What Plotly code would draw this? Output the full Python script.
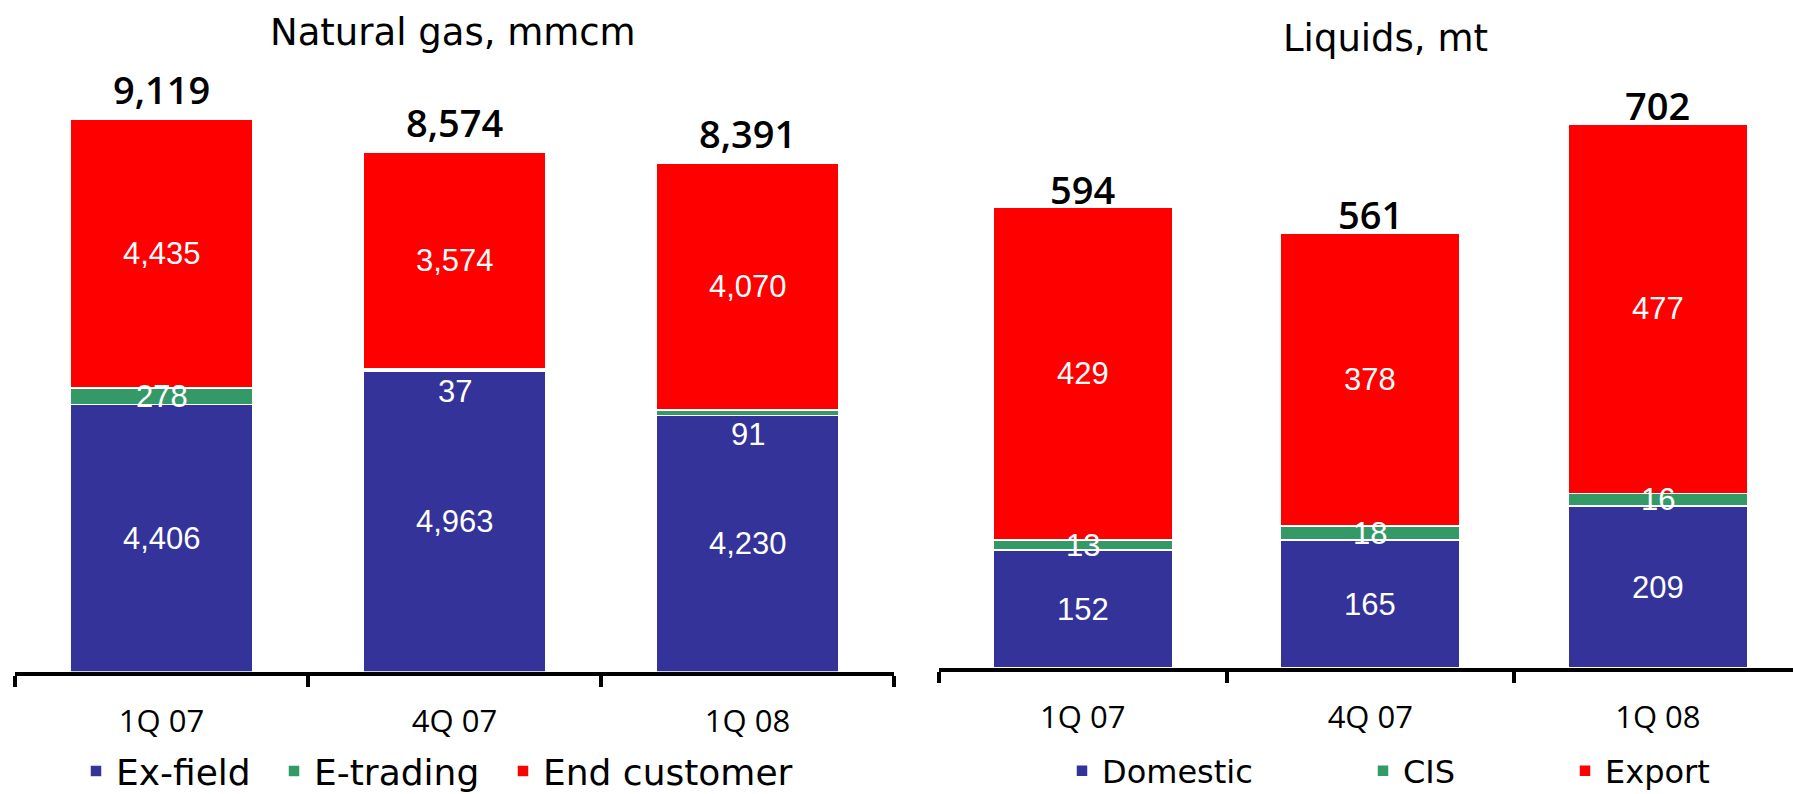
import plotly.graph_objects as go

# Quarters shown on both panels
quarters = ["1Q 07", "4Q 07", "1Q 08"]

# Natural gas sales, mmcm
gas_ex_field = [4406, 4963, 4230]
gas_e_trading = [278, 37, 91]
gas_end_customer = [4435, 3574, 4070]

# Liquids sales, mt
liq_domestic = [152, 165, 209]
liq_cis = [13, 18, 16]
liq_export = [429, 378, 477]

BLUE = "#333399"
GREEN = "#339966"
RED = "#FF0000"
TEXT_FONT = "DejaVu Sans"
NUM_FONT = "Open Sans"
INNER_FONT = "Liberation Sans"

fig = go.Figure()

gas_series = [
    ("Ex-field", gas_ex_field, BLUE, "legend"),
    ("E-trading", gas_e_trading, GREEN, "legend2"),
    ("End customer", gas_end_customer, RED, "legend3"),
]
liq_series = [
    ("Domestic", liq_domestic, BLUE, "legend4"),
    ("CIS", liq_cis, GREEN, "legend5"),
    ("Export", liq_export, RED, "legend6"),
]

for name, vals, color, leg in gas_series:
    fig.add_trace(go.Bar(
        x=quarters, y=vals, name=name, marker=dict(color=color, line=dict(color="white", width=1.5)),
        width=0.62, xaxis="x", yaxis="y", legend=leg,
    ))
for name, vals, color, leg in liq_series:
    fig.add_trace(go.Bar(
        x=quarters, y=vals, name=name, marker=dict(color=color, line=dict(color="white", width=1.5)),
        width=0.623, xaxis="x2", yaxis="y2", legend=leg,
    ))

annotations = []

# segment labels (white, centred in each stacked segment; the two thin
# E-trading slices carry their label just below the slice)
label_shift = {("gas", 1, 1): -22, ("gas", 1, 2): -22}


def add_segment_labels(series, axis_suffix, key):
    base = [0] * len(quarters)
    for si, (_, vals, _, _) in enumerate(series):
        for qi, q in enumerate(quarters):
            mid = base[qi] + vals[qi] / 2
            annotations.append(dict(
                x=q, y=mid, xref="x" + axis_suffix, yref="y" + axis_suffix,
                text=f"{vals[qi]:,}", showarrow=False, yanchor="middle",
                yshift=label_shift.get((key, si, qi), 0),
                font=dict(family=INNER_FONT, size=31, color="white"),
            ))
            base[qi] += vals[qi]
    return base


gas_totals = add_segment_labels(gas_series, "", "gas")
liq_totals = add_segment_labels(liq_series, "2", "liq")

# stack totals above each bar
for q, t in zip(quarters, gas_totals):
    annotations.append(dict(x=q, y=t, xref="x", yref="y", text=f"{t:,}", showarrow=False,
                            yanchor="middle", yshift=30,
                            font=dict(family=NUM_FONT, size=38, color="black", weight=600)))
for q, t in zip(quarters, liq_totals):
    annotations.append(dict(x=q, y=t, xref="x2", yref="y2", text=f"{t:,}", showarrow=False,
                            yanchor="middle", yshift=19,
                            font=dict(family=NUM_FONT, size=38, color="black", weight=600)))

# panel titles
annotations.append(dict(x=453 / 1793, y=1 - 33 / 794, xref="paper", yref="paper", text="Natural gas, mmcm",
                        showarrow=False, xanchor="center", yanchor="middle",
                        font=dict(family=TEXT_FONT, size=37, color="black")))
annotations.append(dict(x=1385 / 1793, y=1 - 39 / 794, xref="paper", yref="paper", text="Liquids, mt",
                        showarrow=False, xanchor="center", yanchor="middle",
                        font=dict(family=TEXT_FONT, size=37, color="black")))

xaxis_common = dict(
    type="category", showline=True, linecolor="black", linewidth=4,
    ticks="outside", tickson="boundaries", ticklen=11, tickwidth=4, tickcolor="black",
    showgrid=False, zeroline=False, ticklabelstandoff=19,
    tickfont=dict(family=NUM_FONT, size=31, color="black"),
)
yaxis_common = dict(visible=False, showgrid=False, zeroline=False)


def legend_at(x_px, y_px, size):
    return dict(orientation="h", x=x_px / 1793, y=1 - y_px / 794, xanchor="left", yanchor="middle",
                bgcolor="rgba(0,0,0,0)", borderwidth=0,
                font=dict(family=TEXT_FONT, size=size, color="black"))


fig.update_layout(
    width=1793, height=794,
    margin=dict(l=0, r=0, t=0, b=0, autoexpand=False),
    paper_bgcolor="white", plot_bgcolor="white",
    barmode="stack", showlegend=True,
    xaxis=dict(domain=[15 / 1793, 894 / 1793], range=[-0.5, 2.5], anchor="y", **xaxis_common),
    yaxis=dict(domain=[1 - 671.5 / 794, 1 - 60 / 794], range=[0, 10100], anchor="x", **yaxis_common),
    xaxis2=dict(domain=[939 / 1793, 1.0], range=[-0.5, 2.47], anchor="y2", **xaxis_common),
    yaxis2=dict(domain=[1 - 668 / 794, 1 - 60 / 794], range=[0, 784.5], anchor="x2", **yaxis_common),
    legend=legend_at(76, 771, 36),
    legend2=legend_at(274, 771, 36),
    legend3=legend_at(503, 771, 36),
    legend4=legend_at(1062, 771, 32),
    legend5=legend_at(1363, 771, 32),
    legend6=legend_at(1565, 771, 32),
    annotations=annotations,
)

fig.write_html("out.html")
